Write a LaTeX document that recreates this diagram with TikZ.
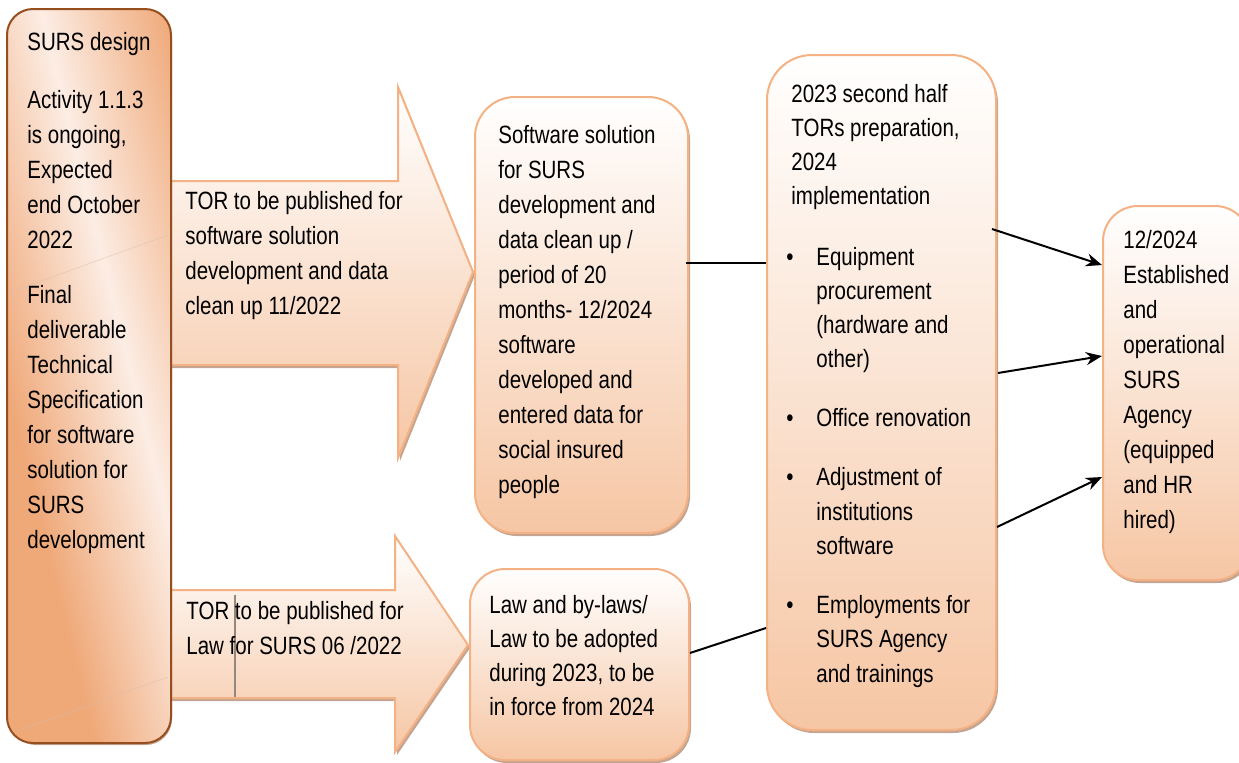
\documentclass[tikz,border=0pt]{standalone}
\usepackage{fontspec}
\setmainfont{Liberation Sans}[FakeStretch=0.82]
\usetikzlibrary{arrows.meta,shadows}

\definecolor{lbDark}{RGB}{239,168,120}
\definecolor{lbLight}{RGB}{252,237,228}
\definecolor{lbEdge}{RGB}{150,78,30}
\definecolor{peach}{RGB}{246,198,164}
\definecolor{peachEdge}{RGB}{244,177,131}
\definecolor{shadowTone}{RGB}{190,155,135}
\definecolor{seam}{RGB}{215,190,175}
\definecolor{tick}{RGB}{150,135,125}

\newcommand\bulletmark{\makebox[15pt][l]{\textbullet}}
\newcommand\bulletgap{\hspace*{15pt}}

\tikzset{
  softshadow/.style={drop shadow={shadow xshift=1pt, shadow yshift=-1.5pt, fill=shadowTone, opacity=0.9}},
  card/.style={rectangle, draw=peachEdge, line width=1pt, top color=white, bottom color=peach, inner sep=0, softshadow},
  panel/.style={rectangle, draw=lbEdge, line width=1pt, fill=lbDark, inner sep=0, softshadow},
  bigarrow/.style={draw=peachEdge, line width=1pt, top color=white, bottom color=peach, softshadow},
  txt/.style={anchor=base west, inner sep=0, text=black, font=\fontsize{12.5}{17.5}\selectfont},
  txtb/.style={txt, font=\fontsize{12.5}{17.15}\selectfont},
  txtc/.style={txt, font=\fontsize{12.5}{17}\selectfont},
  link/.style={draw=black, line width=1pt},
  linkarr/.style={link, -{Stealth[length=8pt,width=6.5pt]}},
}

\begin{document}
\begin{tikzpicture}[x=0.5pt,y=-0.5pt]
\path[use as bounding box] (0,0) rectangle (1239,762);
\clip (0,0) rectangle (1239,762);

% block arrows (their tails run under the left panel)
\path[bigarrow] (160,181) -- (398,181) -- (398,87) -- (473,272) -- (398,458) -- (398,365) -- (160,365) -- cycle;
\path[bigarrow] (160,590) -- (395,590) -- (395,536) -- (468,645) -- (395,752) -- (395,698) -- (160,698) -- cycle;
\draw[tick, line width=0.8pt] (235,595) -- (235,697);

% left panel: solid base, a slanted light band on top, then the outline again
\node[panel, minimum width=81pt, minimum height=366pt, rounded corners=13pt] (L) at (89,376) {};
\begin{scope}
  \clip[rounded corners=13pt] (L.north west) rectangle (L.south east);
  \begin{scope}[transform canvas={rotate around={14:(131.5,376)}}]
    \fill[lbDark] (-300,-300) rectangle (8,1100);
    \fill[lbDark] (255,-300) rectangle (600,1100);
    \shade[left color=lbDark, right color=lbLight] (6.5,-300) rectangle (132,1100);
    \shade[left color=lbLight, right color=lbDark] (131.5,-300) rectangle (256.5,1100);
  \end{scope}
\end{scope}
\draw[seam, line width=0.3pt, opacity=0.6] (168,235) -- (8,293);
\draw[seam, line width=0.3pt, opacity=0.6] (168,677) -- (20,730);
\draw[lbEdge, line width=1pt, rounded corners=13pt] (L.north west) rectangle (L.south east);

% outcome cards
\node[card, minimum width=106.5pt, minimum height=218pt, rounded corners=20pt] (S) at (581.5,315) {};
\node[card, minimum width=109.5pt, minimum height=95.5pt, rounded corners=17.5pt] (W) at (579.5,664.5) {};
\node[card, minimum width=114.5pt, minimum height=337.5pt, rounded corners=22.5pt] (M) at (881.5,392.5) {};
\node[card, minimum width=73.5pt, minimum height=187pt, rounded corners=17.5pt] (R) at (1176.5,393) {};

% connectors
\draw[link] ([xshift=-1.5pt,yshift=26pt]S.east) -- ([yshift=64.75pt]M.west);
\draw[link] ([yshift=5.75pt]W.east) -- ([yshift=-117.75pt]M.west);
\draw[linkarr] ([xshift=-2.5pt,yshift=81.75pt]M.east) -- ([yshift=64pt]R.west);
\draw[linkarr] ([xshift=0.5pt,yshift=9.75pt]M.east) -- ([yshift=18.5pt]R.west);
\draw[linkarr] ([yshift=-67.25pt]M.east) -- ([yshift=-42pt]R.west);

% texts
\node[txt] (tL) at (27,50) {\begin{tabular}[t]{@{}l@{}}SURS design\\[11.5pt]
Activity 1.1.3\\ is ongoing,\\ Expected\\ end October\\ 2022\\[10pt]
Final\\ deliverable\\ Technical\\ Specification\\ for software\\ solution for\\ SURS\\ development\end{tabular}};

\node[txt] (tA1) at (185,209) {\begin{tabular}[t]{@{}l@{}}TOR to be published for\\ software solution\\ development and data\\ clean up 11/2022\end{tabular}};

\node[txt] (tA2) at (186,619) {\begin{tabular}[t]{@{}l@{}}TOR to be published for\\ Law for SURS 06 /2022\end{tabular}};

\node[txt] (tS) at (498,143) {\begin{tabular}[t]{@{}l@{}}Software solution\\ for SURS\\ development and\\ data clean up /\\ period of 20\\ months- 12/2024\\ software\\ developed and\\ entered data for\\ social insured\\ people\end{tabular}};

\node[txtc] (tW) at (489,613) {\begin{tabular}[t]{@{}l@{}}Law and by-laws/\\ Law to be adopted\\ during 2023, to be\\ in force from 2024\end{tabular}};

\node[txtb] (tM1) at (791,102) {\begin{tabular}[t]{@{}l@{}}2023 second half\\ TORs preparation,\\ 2024\\ implementation\end{tabular}};

\node[txtb] (tM2) at (786,265) {\begin{tabular}[t]{@{}l@{}}\bulletmark Equipment\\ \bulletgap procurement\\ \bulletgap (hardware and\\ \bulletgap other)\\[12.35pt]
\bulletmark Office renovation\\[12.35pt]
\bulletmark Adjustment of\\ \bulletgap institutions\\ \bulletgap software\\[12.35pt]
\bulletmark Employments for\\ \bulletgap SURS Agency\\ \bulletgap and trainings\end{tabular}};

\node[txt] (tR) at (1123,248) {\begin{tabular}[t]{@{}l@{}}12/2024\\ Established\\ and\\ operational\\ SURS\\ Agency\\ (equipped\\ and HR\\ hired)\end{tabular}};
\end{tikzpicture}
\end{document}
